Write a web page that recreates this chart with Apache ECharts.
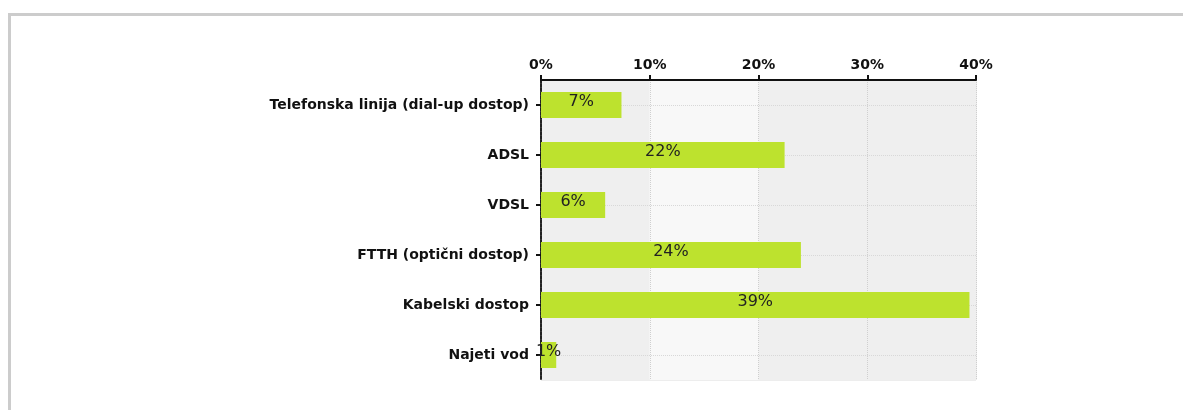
<!DOCTYPE html>
<html>
<head>
<meta charset="utf-8">
<script src="https://cdn.jsdelivr.net/npm/echarts@6/dist/echarts.min.js"></script>
<style>
  html, body { margin: 0; padding: 0; background: #fff; }
  #chart { width: 1183px; height: 410px; }
</style>
</head>
<body>
<div id="chart"></div>
<script>
// Internet access types, share of respondents (%)
const categories = [
  'Telefonska linija (dial-up dostop)',
  'ADSL',
  'VDSL',
  'FTTH (optični dostop)',
  'Kabelski dostop',
  'Najeti vod'
];
const shares = [7.4, 22.4, 5.9, 23.9, 39.4, 1.4];
const tickValues = [0, 10, 20, 30, 40];

const chart = echarts.init(document.getElementById('chart'));

chart.setOption({
  animation: false,
  backgroundColor: '#fff',
  graphic: [{
    type: 'rect',
    silent: true,
    shape: { x: 9.5, y: 14.5, width: 2000, height: 1000 },
    style: { fill: 'none', stroke: '#cccccc', lineWidth: 3 }
  }],
  grid: {
    left: 541, top: 80, right: 207, bottom: 30,
    show: true, borderColor: '#dcdcdc', borderWidth: 1,
    backgroundColor: 'transparent'
  },
  xAxis: {
    type: 'value',
    position: 'top',
    min: tickValues[0],
    max: tickValues[tickValues.length - 1],
    interval: 10,
    axisLine: { show: true, lineStyle: { color: '#111', width: 2 } },
    axisTick: { show: true, length: 5, lineStyle: { color: '#111', width: 2 } },
    axisLabel: {
      formatter: v => v + '%',
      color: '#111', fontWeight: 'bold', fontSize: 14,
      fontFamily: 'DejaVu Sans', margin: 8
    },
    splitLine: { show: true, lineStyle: { color: '#cfcfcf', type: 'dotted', width: 1 } },
    splitArea: { show: true, areaStyle: { color: ['#efefef', '#f8f8f8', '#efefef', '#efefef'] } }
  },
  yAxis: {
    type: 'category',
    inverse: true,
    data: categories,
    axisLine: { show: true, lineStyle: { color: '#222', width: 2, type: [3, 1] } },
    axisTick: { show: true, alignWithLabel: true, length: 5, lineStyle: { color: '#111', width: 2 } },
    axisLabel: {
      color: '#111', fontWeight: 'bold', fontSize: 14,
      fontFamily: 'DejaVu Sans', margin: 12
    },
    splitLine: { show: false }
  },
  series: [{
    type: 'bar',
    data: shares,
    barWidth: 26,
    z: 3,
    itemStyle: { color: '#bde22e' },
    label: {
      show: true,
      position: 'inside',
      formatter: p => Math.round(p.value) + '%',
      color: '#222', fontSize: 16, fontFamily: 'DejaVu Sans',
      offset: [0, -3]
    },
    markLine: {
      silent: true,
      symbol: 'none',
      label: { show: false },
      z: 1,
      lineStyle: { color: '#d8d8d8', type: 'dotted', width: 1 },
      data: categories.map(c => ({ yAxis: c }))
    }
  }]
});
</script>
</body>
</html>
